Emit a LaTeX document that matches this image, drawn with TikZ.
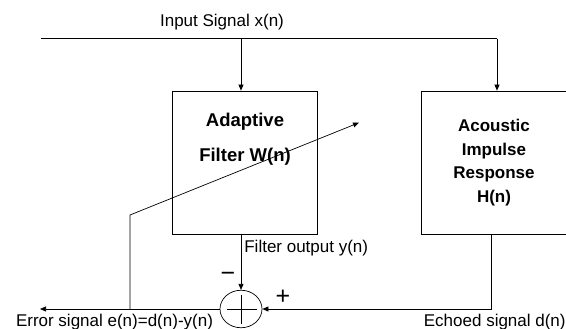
\documentclass[tikz,border=0pt]{standalone}
\usepackage{fontspec}
\setmainfont{Liberation Sans}
\usetikzlibrary{arrows.meta,shapes.geometric}

\begin{document}
\begin{tikzpicture}[x=1pt, y=-1pt, line width=0.7pt, >={Triangle[length=6pt,width=5pt]},
    lbl/.style={font=\fontsize{17}{20}\selectfont, inner sep=0pt},
    sgn/.style={font=\fontsize{25}{25}\selectfont, inner sep=0pt},
    blk/.style={draw, inner sep=0pt, minimum height=143pt, align=center}]
    \useasboundingbox (0,0) rectangle (566,329);
    \def\topy{38.6}
    \def\boty{309}

    % blocks
    \node[blk, minimum width=145pt] (wbox) at (244.5,162.5) {};
    \node[align=center, inner sep=0pt, font=\bfseries\fontsize{18.5}{35}\selectfont] (wtxt) at (245,139.5) {Adaptive\\Filter W(n)};
    \node[blk, minimum width=146pt, font=\bfseries\fontsize{17}{23.5}\selectfont] (hbox) at (494,162.5) {Acoustic\\Impulse\\Response\\H(n)};

    % summing junction
    \node[draw, ellipse, inner sep=0pt, minimum width=42pt, minimum height=37.5pt] (sum) at (241,\boty) {};
    \draw ([xshift=-14pt]sum.center) -- ([xshift=16pt]sum.center);
    \draw ([yshift=-15pt]sum.center) -- ([yshift=14pt]sum.center);

    % input
    \coordinate (xin) at (41,\topy);
    \coordinate (xend) at (497,\topy);
    \coordinate (xtap) at (241,\topy);
    \draw (xin) -- (xend);
    \draw[->] (xtap) -- (xtap |- wbox.north);
    \draw[->] (xend) -- (xend |- hbox.north);
    \node[lbl] (xlbl) at (222,21.7) {Input Signal x(n)};

    % filter output
    \draw[->] (sum |- wbox.south) -- (sum.north);
    \node[lbl, anchor=west] (ylbl) at (244,248) {Filter output y(n)};
    \node[sgn] (minus) at (228,277) {−};

    % echoed signal
    \coordinate (dtap) at (491,234);
    \draw[->] (dtap |- hbox.south) |- (sum.east);
    \node[sgn] (plus) at (283,297) {+};
    \node[lbl, anchor=east] (dlbl) at (566,322) {Echoed signal d(n)};

    % error and adaptation
    \coordinate (eout) at (40,\boty);
    \coordinate (etap) at (130,\boty);
    \coordinate (ebend) at (130,215);
    \coordinate (etip) at (359,122.7);
    \draw[->] (sum.west) -- (eout);
    \draw[->] (etap) -- (ebend) -- (etip);
    \node[lbl] (elbl) at (114.5,322) {Error signal e(n)=d(n)-y(n)};
\end{tikzpicture}
\end{document}
